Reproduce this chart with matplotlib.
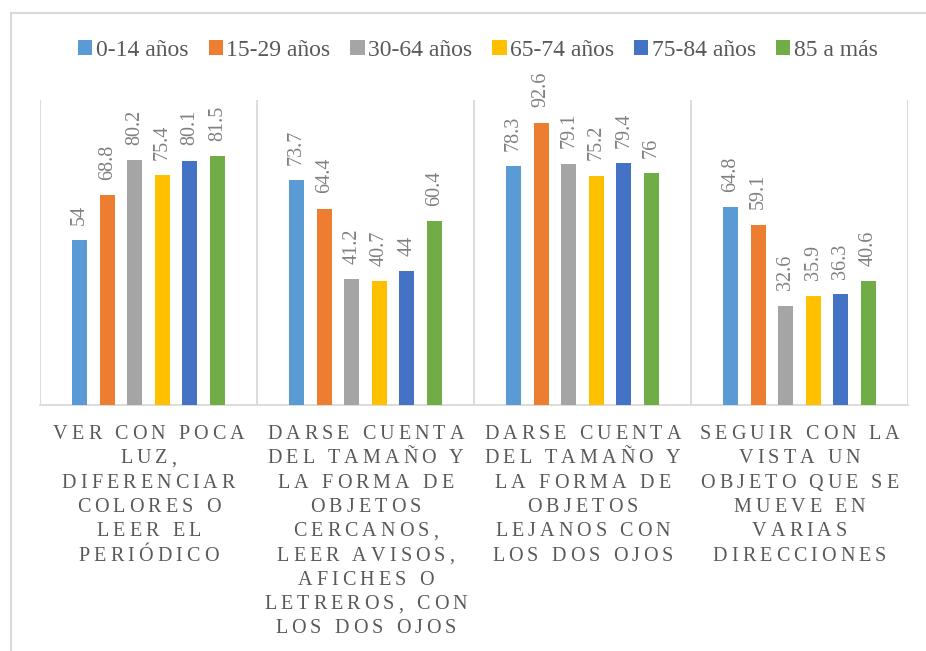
import matplotlib.pyplot as plt
import numpy as np
from matplotlib import font_manager
from matplotlib.ft2font import FT2Font

plt.rcParams['font.family'] = ['Liberation Serif', 'DejaVu Serif']

# ---- data ----
categories = [
    "VER CON POCA\nLUZ,\nDIFERENCIAR\nCOLORES O\nLEER EL\nPERIÓDICO",
    "DARSE CUENTA\nDEL TAMAÑO Y\nLA FORMA DE\nOBJETOS\nCERCANOS,\nLEER AVISOS,\nAFICHES O\nLETREROS, CON\nLOS DOS OJOS",
    "DARSE CUENTA\nDEL TAMAÑO Y\nLA FORMA DE\nOBJETOS\nLEJANOS CON\nLOS DOS OJOS",
    "SEGUIR CON LA\nVISTA UN\nOBJETO QUE SE\nMUEVE EN\nVARIAS\nDIRECCIONES",
]
series_names = ["0-14 años", "15-29 años", "30-64 años", "65-74 años", "75-84 años", "85 a más"]
v_0_14 = [54, 73.7, 78.3, 64.8]
v_15_29 = [68.8, 64.4, 92.6, 59.1]
v_30_64 = [80.2, 41.2, 79.1, 32.6]
v_65_74 = [75.4, 40.7, 75.2, 35.9]
v_75_84 = [80.1, 44, 79.4, 36.3]
v_85 = [81.5, 60.4, 76, 40.6]
series_values = [v_0_14, v_15_29, v_30_64, v_65_74, v_75_84, v_85]
colors = ['#5B9BD5', '#ED7D31', '#A5A5A5', '#FFC000', '#4472C4', '#70AD47']

TXT = '#595959'
GRID = '#D9D9D9'
DPI = 100

fig = plt.figure(figsize=(9.26, 6.51), dpi=DPI)
ax = fig.add_axes([40 / 926, 1 - 405 / 651, 868 / 926, 305 / 651])

x = np.arange(len(categories))
bw = 0.069
step = 0.127
for i, (name, vals, c) in enumerate(zip(series_names, series_values, colors)):
    pos = x + (i - 2.5) * step
    ax.bar(pos, vals, width=bw, color=c, label=name, zorder=3)
    for p, v in zip(pos, vals):
        ax.annotate(f"{v:g}", xy=(p, v), xytext=(0, 11), textcoords='offset points',
                    rotation=90, ha='center', va='bottom', fontsize=14.5, color='#808080')

ax.set_xlim(-0.5, len(categories) - 0.5)
ax.set_ylim(0, 100)
ax.vlines(np.arange(len(categories) + 1) - 0.5, 0, 100, color=GRID, lw=1.3, zorder=1)

for s in ['top', 'left', 'right']:
    ax.spines[s].set_visible(False)
ax.spines['bottom'].set_color(GRID)
ax.spines['bottom'].set_linewidth(1.3)
ax.set_xticks([])
ax.set_yticks([])

# category labels with Excel-like letter spacing, placed char by char
cat_size = 14.5
font_path = font_manager.findfont(font_manager.FontProperties(family='Liberation Serif'))
ft = FT2Font(font_path)
ft.set_size(cat_size, 72)  # advances in points


def advance(ch):
    g = ft.load_char(ord(ch))
    return g.linearHoriAdvance / 65536


gap = 0.2 * cat_size
first_base = -24.5
line_step = 17.5
for i, cat in enumerate(categories):
    for k, line in enumerate(cat.split("\n")):
        adv = [advance(ch) for ch in line]
        total = sum(adv) + gap * (len(line) - 1)
        xo = -total / 2
        for ch, a in zip(line, adv):
            if ch != ' ':
                ax.annotate(ch, xy=(i, 0), xytext=(xo, first_base - k * line_step),
                            textcoords='offset points', ha='left', va='baseline',
                            fontsize=cat_size, color=TXT, annotation_clip=False)
            xo += a + gap

leg = fig.legend(loc='center', bbox_to_anchor=(478 / 926, 1 - 50 / 651), ncol=6,
                 frameon=False, fontsize=17, handlelength=0.6, handleheight=0.6,
                 handletextpad=0.15, columnspacing=0.85, borderaxespad=0)
for t in leg.get_texts():
    t.set_color(TXT)

fig.add_artist(plt.Rectangle((11 / 926, -0.1), 1.0, 1.1 - 13 / 651, transform=fig.transFigure,
                             fill=False, edgecolor=GRID, lw=1.5))

fig.savefig('out.png', dpi=DPI)
